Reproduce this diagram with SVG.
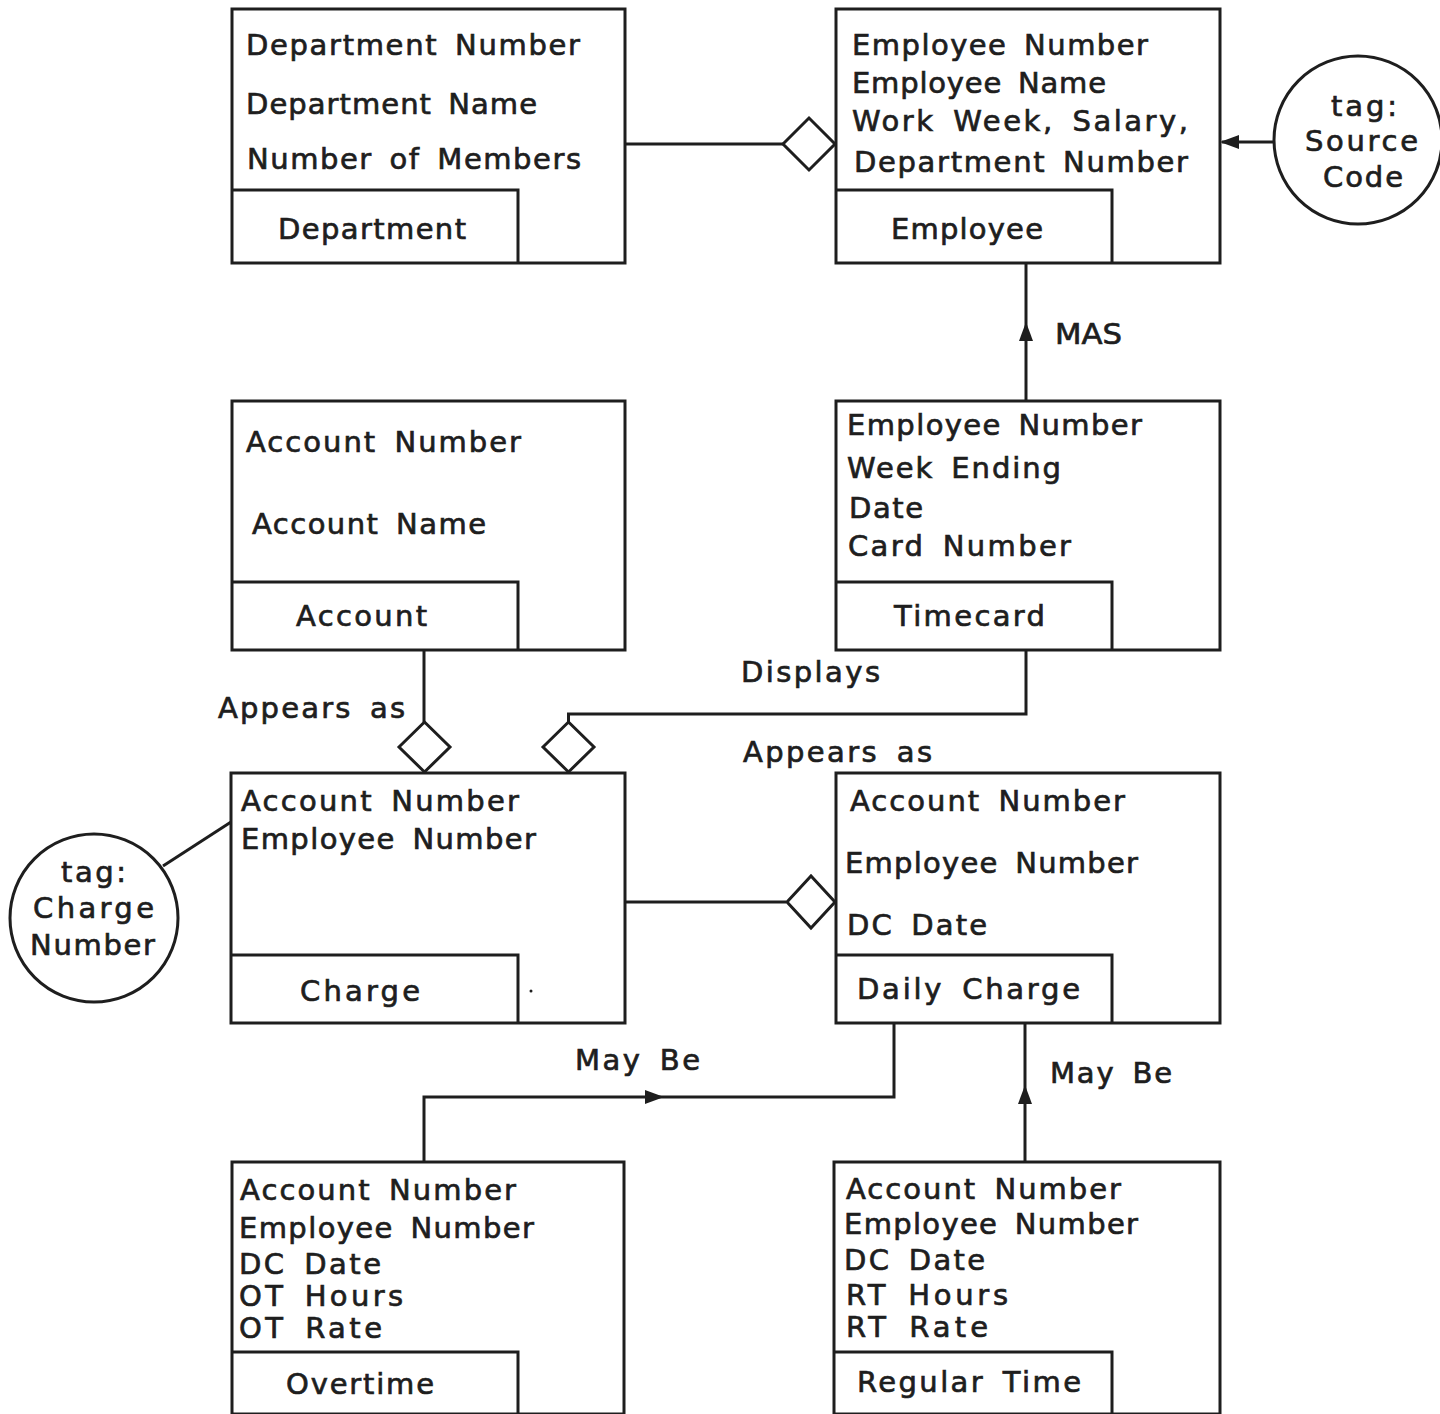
<svg xmlns="http://www.w3.org/2000/svg" xmlns:xlink="http://www.w3.org/1999/xlink" width="1440" height="1414" viewBox="0 0 1440 1414">
  <style>
    .box { fill: none; stroke: #1e1e1e; stroke-width: 3; }
    .line { fill: none; stroke: #1e1e1e; stroke-width: 3; }
    .dia { fill: #ffffff; stroke: #1e1e1e; stroke-width: 3; }
    .tag { fill: #ffffff; stroke: #1e1e1e; stroke-width: 3; }
    .arr { fill: #1e1e1e; stroke: none; }
    text { font-family: "DejaVu Sans", "Liberation Sans", sans-serif; font-size: 29px; word-spacing: 6px; fill: #1e1e1e; stroke: #1e1e1e; stroke-width: 0.7; }
  </style>
  <defs>
    <!-- filled arrowhead pointing up, tip at origin -->
    <polygon id="head" points="0,0 -7,19 7,19"/>
  </defs>
  <rect width="1440" height="1414" fill="#ffffff"/>

  <!-- connectors -->
  <g id="connectors">
    <line class="line" x1="625" y1="144" x2="784" y2="144"/>
    <path class="dia" d="M783,144 L809,118 L835,144 L809,170 Z"/>

    <line class="line" x1="1274" y1="142" x2="1222" y2="142"/>
    <use href="#head" class="arr" transform="translate(1220,142) rotate(-90)"/>

    <line class="line" x1="1026" y1="401" x2="1026" y2="263"/>
    <use href="#head" class="arr" transform="translate(1026,322)"/>
    <text x="1055" y="344" textLength="67" lengthAdjust="spacingAndGlyphs">MAS</text>

    <line class="line" x1="424" y1="650" x2="424" y2="722"/>
    <path class="dia" d="M399,747 L424.5,722 L450,747 L424.5,772 Z"/>
    <text x="218" y="718" textLength="187" lengthAdjust="spacing">Appears as</text>

    <path class="line" d="M1026,650 L1026,714 L568.5,714 L568.5,722"/>
    <path class="dia" d="M543,747 L568.5,722 L594,747 L568.5,772 Z"/>
    <text x="741" y="682" textLength="139" lengthAdjust="spacing">Displays</text>

    <line class="line" x1="625" y1="902" x2="786" y2="902"/>
    <path class="dia" d="M787,902 L811,876 L835,902 L811,928 Z"/>
    <text x="743" y="762" textLength="189" lengthAdjust="spacing">Appears as</text>

    <line class="line" x1="163" y1="866" x2="231" y2="822"/>

    <path class="line" d="M424,1162 L424,1097 L894,1097 L894,1023"/>
    <use href="#head" class="arr" transform="translate(664,1097) rotate(90)"/>
    <text x="575" y="1070" textLength="125" lengthAdjust="spacing">May Be</text>

    <line class="line" x1="1025" y1="1162" x2="1025" y2="1023"/>
    <use href="#head" class="arr" transform="translate(1025,1085)"/>
    <text x="1050" y="1083" textLength="122" lengthAdjust="spacing">May Be</text>
  </g>

  <!-- Department -->
  <g id="department">
    <rect class="box" x="232" y="9" width="393" height="254"/>
    <path class="box" d="M232,190 L518,190 L518,263"/>
    <text x="246" y="55" textLength="334" lengthAdjust="spacing">Department Number</text>
    <text x="246" y="114" textLength="291" lengthAdjust="spacing">Department Name</text>
    <text x="247" y="169" textLength="334" lengthAdjust="spacing">Number of Members</text>
    <text x="278" y="239" textLength="188" lengthAdjust="spacing">Department</text>
  </g>

  <!-- Employee -->
  <g id="employee">
    <rect class="box" x="836" y="9" width="384" height="254"/>
    <path class="box" d="M836,190 L1112,190 L1112,263"/>
    <text x="852" y="55" textLength="296" lengthAdjust="spacing">Employee Number</text>
    <text x="852" y="93" textLength="254" lengthAdjust="spacing">Employee Name</text>
    <text x="852" y="131" textLength="336" lengthAdjust="spacing">Work Week, Salary,</text>
    <text x="854" y="172" textLength="334" lengthAdjust="spacing">Department Number</text>
    <text x="891" y="239" textLength="152" lengthAdjust="spacing">Employee</text>
  </g>

  <!-- tag: Source Code -->
  <g id="tag-source-code">
    <circle class="tag" cx="1358" cy="140" r="84"/>
    <text x="1331" y="116" textLength="66" lengthAdjust="spacing">tag:</text>
    <text x="1305" y="151" textLength="113" lengthAdjust="spacing">Source</text>
    <text x="1323" y="187" textLength="80" lengthAdjust="spacing">Code</text>
  </g>

  <!-- Account -->
  <g id="account">
    <rect class="box" x="232" y="401" width="393" height="249"/>
    <path class="box" d="M232,582 L518,582 L518,650"/>
    <text x="246" y="452" textLength="275" lengthAdjust="spacing">Account Number</text>
    <text x="252" y="534" textLength="234" lengthAdjust="spacing">Account Name</text>
    <text x="296" y="626" textLength="131" lengthAdjust="spacing">Account</text>
  </g>

  <!-- Timecard -->
  <g id="timecard">
    <rect class="box" x="836" y="401" width="384" height="249"/>
    <path class="box" d="M836,582 L1112,582 L1112,650"/>
    <text x="847" y="435" textLength="295" lengthAdjust="spacing">Employee Number</text>
    <text x="847" y="478" textLength="214" lengthAdjust="spacing">Week Ending</text>
    <text x="849" y="518" textLength="74" lengthAdjust="spacing">Date</text>
    <text x="848" y="556" textLength="223" lengthAdjust="spacing">Card Number</text>
    <text x="894" y="626" textLength="151" lengthAdjust="spacing">Timecard</text>
  </g>

  <!-- Charge -->
  <g id="charge">
    <rect class="box" x="231" y="773" width="394" height="250"/>
    <path class="box" d="M231,955 L518,955 L518,1023"/>
    <text x="241" y="811" textLength="278" lengthAdjust="spacing">Account Number</text>
    <text x="241" y="849" textLength="295" lengthAdjust="spacing">Employee Number</text>
    <text x="300" y="1001" textLength="120" lengthAdjust="spacing">Charge</text>
    <circle cx="531" cy="991" r="1.5" fill="#1e1e1e"/>
  </g>

  <!-- tag: Charge Number -->
  <g id="tag-charge-number">
    <circle class="tag" cx="94" cy="918" r="84"/>
    <text x="61" y="882" textLength="65" lengthAdjust="spacing">tag:</text>
    <text x="33" y="918" textLength="121" lengthAdjust="spacing">Charge</text>
    <text x="30" y="955" textLength="125" lengthAdjust="spacing">Number</text>
  </g>

  <!-- Daily Charge -->
  <g id="daily-charge">
    <rect class="box" x="836" y="773" width="384" height="250"/>
    <path class="box" d="M836,955 L1112,955 L1112,1023"/>
    <text x="850" y="811" textLength="275" lengthAdjust="spacing">Account Number</text>
    <text x="845" y="873" textLength="293" lengthAdjust="spacing">Employee Number</text>
    <text x="847" y="935" textLength="140" lengthAdjust="spacing">DC Date</text>
    <text x="857" y="999" textLength="223" lengthAdjust="spacing">Daily Charge</text>
  </g>

  <!-- Overtime -->
  <g id="overtime">
    <rect class="box" x="232" y="1162" width="392" height="252"/>
    <path class="box" d="M232,1352 L518,1352 L518,1414"/>
    <text x="240" y="1200" textLength="276" lengthAdjust="spacing">Account Number</text>
    <text x="239" y="1238" textLength="295" lengthAdjust="spacing">Employee Number</text>
    <text x="239" y="1274" textLength="142" lengthAdjust="spacing">DC Date</text>
    <text x="239" y="1306" textLength="164" lengthAdjust="spacing">OT Hours</text>
    <text x="239" y="1338" textLength="143" lengthAdjust="spacing">OT Rate</text>
    <text x="286" y="1394" textLength="148" lengthAdjust="spacing">Overtime</text>
  </g>

  <!-- Regular Time -->
  <g id="regular-time">
    <rect class="box" x="834" y="1162" width="386" height="252"/>
    <path class="box" d="M834,1352 L1112,1352 L1112,1414"/>
    <text x="846" y="1199" textLength="275" lengthAdjust="spacing">Account Number</text>
    <text x="844" y="1234" textLength="294" lengthAdjust="spacing">Employee Number</text>
    <text x="844" y="1270" textLength="141" lengthAdjust="spacing">DC Date</text>
    <text x="846" y="1305" textLength="162" lengthAdjust="spacing">RT Hours</text>
    <text x="846" y="1337" textLength="142" lengthAdjust="spacing">RT Rate</text>
    <text x="857" y="1392" textLength="224" lengthAdjust="spacing">Regular Time</text>
  </g>
</svg>
